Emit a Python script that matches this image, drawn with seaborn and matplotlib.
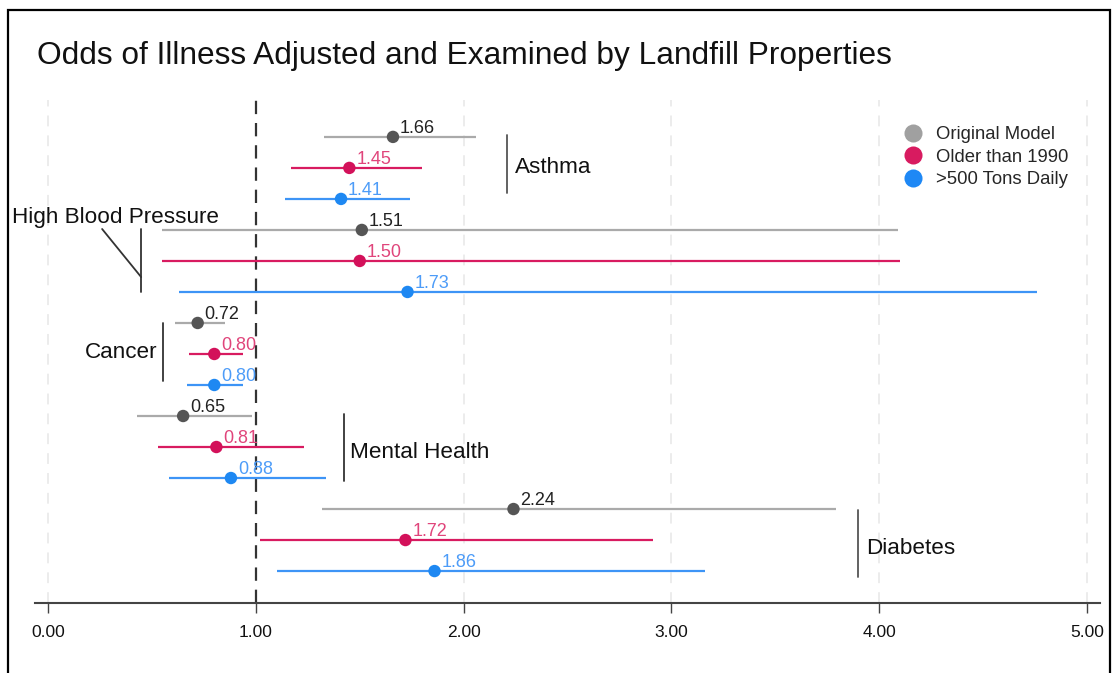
import numpy as np
import pandas as pd
import matplotlib
matplotlib.use("Agg")
import matplotlib.pyplot as plt
import seaborn as sns
from matplotlib.lines import Line2D
from matplotlib.patches import Rectangle

# ---------------- data ----------------
diseases = ["Asthma", "High Blood Pressure", "Cancer", "Mental Health", "Diabetes"]
models = ["Original Model", "Older than 1990", ">500 Tons Daily"]

est_original = [1.66, 1.51, 0.72, 0.65, 2.24]
lo_original = [1.33, 0.55, 0.61, 0.43, 1.32]
hi_original = [2.06, 4.09, 0.85, 0.98, 3.79]

est_older = [1.45, 1.50, 0.80, 0.81, 1.72]
lo_older = [1.17, 0.55, 0.68, 0.53, 1.02]
hi_older = [1.80, 4.10, 0.94, 1.23, 2.91]

est_tons = [1.41, 1.73, 0.80, 0.88, 1.86]
lo_tons = [1.14, 0.63, 0.67, 0.58, 1.10]
hi_tons = [1.74, 4.76, 0.94, 1.34, 3.16]

xticks = [0, 1, 2, 3, 4, 5]
xtick_labels = ["0.00", "1.00", "2.00", "3.00", "4.00", "5.00"]

# ---------------- table ----------------
rows = []
series = [(est_original, lo_original, hi_original),
          (est_older, lo_older, hi_older),
          (est_tons, lo_tons, hi_tons)]
for d_i, dis in enumerate(diseases):
    for m_i, mod in enumerate(models):
        e, lo, hi = series[m_i]
        rows.append(dict(disease=dis, model=mod, est=e[d_i], lo=lo[d_i],
                         hi=hi[d_i], row=d_i * 3 + m_i))
df = pd.DataFrame(rows)

line_colors = {"Original Model": "#aaaaaa", "Older than 1990": "#d81b60", ">500 Tons Daily": "#3d94f6"}
dot_colors = {"Original Model": "#555555", "Older than 1990": "#d3115a", ">500 Tons Daily": "#1e88f2"}
text_colors = {"Original Model": "#222222", "Older than 1990": "#e0457b", ">500 Tons Daily": "#4d9cf8"}
legend_colors = {"Original Model": "#a0a0a0", "Older than 1990": "#d81b60", ">500 Tons Daily": "#1e88f5"}

# ---------------- style ----------------
sns.set_theme(style="white")
plt.rcParams["font.family"] = ["Liberation Sans", "DejaVu Sans"]

fig = plt.figure(figsize=(11.12, 6.73), dpi=100)
W, H = 1112, 673
ax = fig.add_axes([35 / W, 1 - 603 / H, (1100 - 35) / W, (603 - 100) / H])

# gridlines
for xt in xticks:
    if xt == 1:
        continue
    ax.axvline(xt, color="#ebebeb", lw=1.3, ls=(0, (6, 5)), zorder=0)
ax.axvline(1, color="#333333", lw=1.6, ls=(0, (6, 4)), zorder=1)

# CI lines
for _, r in df.iterrows():
    ax.hlines(r["row"], r["lo"], r["hi"], color=line_colors[r["model"]], lw=1.6, zorder=2)

# points
sns.scatterplot(data=df, x="est", y="row", hue="model", palette=dot_colors,
                s=80, linewidth=0, legend=False, ax=ax, zorder=3)

# value labels
for _, r in df.iterrows():
    ax.annotate(f"{r['est']:.2f}", (r["est"], r["row"]), xytext=(5, 3),
                textcoords="offset points", ha="left", va="baseline",
                fontsize=13, color=text_colors[r["model"]], zorder=4)

# bracket annotations
bc = "#333333"
fs_grp = 16.2
# Asthma
ax.plot([2.209, 2.209], [-0.06, 1.81], color="#555555", lw=1.3, clip_on=False)
ax.text(2.247, 1.0, "Asthma", fontsize=fs_grp, va="center", ha="left", color="#111111")
# High Blood Pressure
ax.plot([0.448, 0.448], [2.97, 5.0], color=bc, lw=1.3, clip_on=False)
ax.plot([0.26, 0.448], [2.97, 4.52], color=bc, lw=1.3, clip_on=False)
ax.text(-0.173, 2.77, "High Blood Pressure", fontsize=fs_grp, va="baseline", ha="left",
        color="#111111", clip_on=False)
# Cancer
ax.plot([0.553, 0.553], [6.0, 7.87], color=bc, lw=1.3, clip_on=False)
ax.text(0.525, 6.94, "Cancer", fontsize=fs_grp, va="center", ha="right", color="#111111")
# Mental Health
ax.plot([1.424, 1.424], [8.94, 11.1], color=bc, lw=1.3, clip_on=False)
ax.text(1.453, 10.19, "Mental Health", fontsize=fs_grp, va="center", ha="left", color="#111111")
# Diabetes
ax.plot([3.898, 3.898], [12.03, 14.19], color="#555555", lw=1.3, clip_on=False)
ax.text(3.936, 13.26, "Diabetes", fontsize=fs_grp, va="center", ha="left", color="#111111")

# axes
ax.set_xlim(-0.063, 5.063)
ax.set_ylim(15.03, -1.19)
ax.set_xticks(xticks)
ax.set_xticklabels(xtick_labels, fontsize=12.5, color="#111111")
ax.set_yticks([])
ax.set_xlabel("")
ax.set_ylabel("")
for s in ["top", "right", "left"]:
    ax.spines[s].set_visible(False)
ax.spines["bottom"].set_color("#444444")
ax.spines["bottom"].set_linewidth(1.5)
ax.tick_params(axis="x", direction="out", length=7, width=1, color="#444444", pad=9,
               bottom=True)

# legend
handles = [Line2D([0], [0], marker="o", ls="", markersize=13, markerfacecolor=legend_colors[m],
                  markeredgewidth=0, label=m) for m in models]
leg = fig.legend(handles=handles, loc="upper left", bbox_to_anchor=(893 / W, 1 - 117 / H),
                 frameon=False, fontsize=13.3, handletextpad=0.65, labelspacing=0.3,
                 borderpad=0, handlelength=1.2)

# title
fig.text(37 / W, 1 - 56 / H, "Odds of Illness Adjusted and Examined by Landfill Properties",
         fontsize=22.8, va="center", ha="left", color="#111111")

# frame around figure
fig.patches.append(Rectangle((8 / W, -0.05), (1110 - 8) / W, 1.05 - 10 / H,
                             transform=fig.transFigure, fill=False, ec="black", lw=1.6))

fig.savefig("out.png", dpi=100)
